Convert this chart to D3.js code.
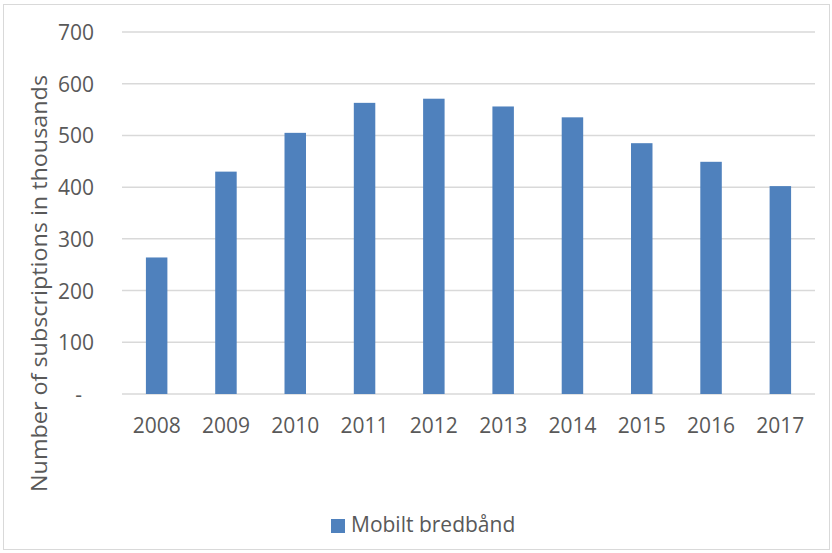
<!DOCTYPE html>
<html><head><meta charset="utf-8">
<script src="https://cdnjs.cloudflare.com/ajax/libs/d3/7.8.5/d3.min.js"></script>
<style>body{margin:0;background:#fff}text{font-family:"Open Sans",sans-serif;fill:#595959}</style>
</head><body><svg id="c" width="832" height="553"></svg>
<script>
const years = ["2008","2009","2010","2011","2012","2013","2014","2015","2016","2017"];
const values = [264, 430, 505, 563, 571, 556, 535, 485, 449, 402];
const yTicks = [0,100,200,300,400,500,600,700];
const seriesName = "Mobilt bredbånd";
const yTitle = "Number of subscriptions in thousands";

const svg = d3.select("#c");
svg.append("rect").attr("x",3.5).attr("y",4.5).attr("width",826).attr("height",545)
  .attr("fill","#fff").attr("stroke","#D9D9D9").attr("stroke-width",1);

const x = d3.scaleBand().domain(years).range([122,815]).paddingInner(0.69).paddingOuter(0.345);
const y = d3.scaleLinear().domain([0,700]).range([394,32]);

const grid = svg.append("g");
grid.selectAll("line").data(yTicks).join("line")
  .attr("x1",122).attr("x2",815).attr("y1",d=>y(d)).attr("y2",d=>y(d))
  .attr("stroke","#D9D9D9").attr("stroke-width",1.5);

const yAxis = svg.append("g").attr("transform","translate(94,0)")
  .call(d3.axisLeft(y).tickValues(yTicks).tickSize(0).tickPadding(0).tickFormat(d=>d===0?"-":d));
yAxis.select(".domain").remove();
yAxis.selectAll("text").style("font-size","21px").attr("fill","#595959")
  .attr("dy","0.36em").attr("x",d=>d===0?-12:0);

svg.append("g").selectAll("rect").data(values).join("rect")
  .attr("x",(d,i)=>x(years[i])).attr("width",x.bandwidth())
  .attr("y",d=>y(d)).attr("height",d=>y(0)-y(d))
  .attr("fill","#4F81BD");

const xAxis = svg.append("g").attr("transform","translate(0,394)")
  .call(d3.axisBottom(x).tickSize(0).tickPadding(0));
xAxis.select(".domain").remove();
xAxis.selectAll("text").style("font-size","21px").attr("fill","#595959").attr("dy","0").attr("y",39);

svg.append("text").attr("transform","translate(47,283.5) rotate(-90)")
  .attr("text-anchor","middle").style("font-size","22px")
  .attr("textLength",417).attr("lengthAdjust","spacingAndGlyphs").text(yTitle);

svg.append("rect").attr("x",331).attr("y",519).attr("width",14).attr("height",14).attr("fill","#4F81BD");
svg.append("text").attr("x",351).attr("y",532).style("font-size","21px").text(seriesName);
</script></body></html>
